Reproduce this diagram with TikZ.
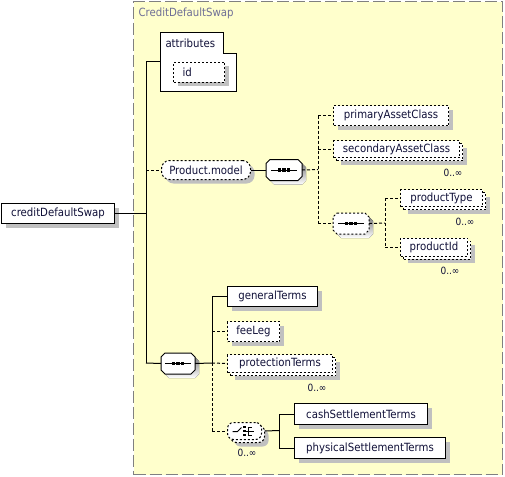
\documentclass[tikz,border=0pt]{standalone}
\usepackage{fontspec}
\setmainfont{DejaVu Sans Condensed}
\usetikzlibrary{shadows,calc}
\definecolor{bgyellow}{RGB}{255,255,204}
\definecolor{framegray}{RGB}{128,128,128}
\definecolor{shade}{RGB}{192,192,192}
\definecolor{txt}{RGB}{16,16,56}
\definecolor{ttl}{RGB}{110,110,150}
\newcommand{\lblfont}{\fontsize{11.3}{13}\selectfont}
\newcommand{\mulfont}{\fontsize{10}{12}\selectfont}
% octagon outline around a node: node, chamfer, x offset, y offset
\newcommand{\octo}[4]{($(#1.north west)+(#2+#3,#4)$) -- ($(#1.north east)+(-#2+#3,#4)$) -- ($(#1.north east)+(#3,#2+#4)$) -- ($(#1.south east)+(#3,-#2+#4)$) -- ($(#1.south east)+(-#2+#3,#4)$) -- ($(#1.south west)+(#2+#3,#4)$) -- ($(#1.south west)+(#3,-#2+#4)$) -- ($(#1.north west)+(#3,#2+#4)$) -- cycle}
\begin{document}
\begin{tikzpicture}[x=1pt,y=-1pt, line width=1pt,
 base/.style={draw=black, fill=white, rectangle, inner sep=0pt, anchor=north west, font=\lblfont, text=txt},
 opt/.style={dash pattern=on 2pt off 2pt},
 shad/.style={general shadow={fill=shade, draw=none, shadow xshift=4pt, shadow yshift=-4pt}},
 multi/.style={general shadow={fill=shade, draw=none, shadow xshift=7pt, shadow yshift=-7pt},
               general shadow={fill=white, draw=black, shadow xshift=3pt, shadow yshift=-3pt}},
 sz/.style 2 args={minimum width=#1pt, minimum height=#2pt},
 seqbox/.style={draw=none, fill=none, rectangle, inner sep=0pt, anchor=north west},
 dconn/.style={dash pattern=on 3pt off 2pt},
 mult/.style={font=\mulfont, text=txt, inner sep=0pt}
]
\useasboundingbox (0,0) rectangle (505,476);

% container
\node[draw=framegray, fill=bgyellow, line width=1.3pt, dash pattern=on 12pt off 4pt,
      rectangle, anchor=north west, minimum width=369pt, minimum height=473pt, inner sep=0pt]
      (grp) at (133,1) {};
\node[font=\lblfont, text=ttl, anchor=west, inner sep=0pt] (title) at (138,13) {CreditDefaultSwap};

% junction coordinates
\coordinate (v0) at (146,62);
\coordinate (vbot) at (146,363);
\coordinate (attr) at (160,62);
\coordinate (j1) at (318,169.5);
\coordinate (j2) at (385,223);
\coordinate (j3) at (212,363);
\coordinate (j4) at (279,430.5);

% main connectors
\draw (v0) -- (vbot);
\draw (v0) -- (attr);

% attributes
\draw[fill=white] (160,33) -- (223,33) -- (223,54) -- (236,54) -- (236,92) -- (160,92) -- cycle;
\node[font=\lblfont, text=txt, anchor=west, inner sep=0pt] (attrlbl) at (165,43.5) {attributes};
\node[base, opt, shad, minimum height=20pt, text width=33pt, inner xsep=9pt, align=left] (id) at (173,62) {id};

% root
\node[base, shad, sz={113}{20}] (cds) at (1,203) {creditDefaultSwap};
\draw (cds.east) -- (cds.east -| v0);

% sequence compositor placeholders
\node[seqbox, sz={35}{20}] (seq1) at (266,159.5) {};
\node[seqbox, sz={35}{20}] (seq2) at (333,213) {};
\node[seqbox, sz={33}{20}] (seq3) at (161,353) {};
\foreach \s in {seq1,seq2,seq3}{\fill[shade] \octo{\s}{4}{4}{4};}
\filldraw[fill=white] \octo{seq1}{4}{0}{0};
\filldraw[fill=white, opt] \octo{seq2}{4}{0}{0};
\filldraw[fill=white] \octo{seq3}{4}{0}{0};

% Product.model group
\node[base, opt, shad, rounded corners=8pt, sz={89}{19}] (pm) at (161,160) {Product.model};
\draw[dconn] (pm.west -| v0) -- (pm.west);
\draw (pm.east) -- (seq1.west);
\node[base, opt, shad, sz={115}{20}] (pac) at (333,105) {primaryAssetClass};
\node[base, opt, multi, sz={126}{17}] (sac) at (333,140) {secondaryAssetClass};
\node[mult] (sacm) at (453,173) {0..∞};
\draw[dconn] (seq1.east) -- (j1);
\draw[dconn] (j1 |- pac.west) -- (j1 |- seq2.west);
\draw[dconn] (j1 |- pac.west) -- (pac.west);
\draw[dconn] (j1 |- sac.west) -- (sac.west);
\draw[dconn] (j1 |- seq2.west) -- (seq2.west);

\node[base, opt, multi, sz={82}{17}] (pt) at (400,189) {productType};
\node[mult] (ptm) at (465,222) {0..∞};
\node[base, opt, multi, sz={67}{18}] (pid) at (400,237.5) {productId};
\node[mult] (pidm) at (450,271) {0..∞};
\draw[dconn] (seq2.east) -- (j2);
\draw[dconn] (j2 |- pt.west) -- (j2 |- pid.west);
\draw[dconn] (j2 |- pt.west) -- (pt.west);
\draw[dconn] (j2 |- pid.west) -- (pid.west);

% bottom sequence
\draw (vbot) -- (seq3.west);
\node[base, shad, sz={90}{20}] (gt) at (227,286) {generalTerms};
\node[base, opt, shad, sz={52}{20}] (fl) at (227,321) {feeLeg};
\node[base, opt, multi, sz={105}{18}] (prt) at (227,354) {protectionTerms};
\node[mult] (prtm) at (317,388) {0..∞};
\node[base, opt, multi, rounded corners=6pt, sz={34}{17}] (ch) at (227,422) {};
\node[mult] (chm) at (247,453) {0..∞};
\draw (seq3.east) -- (j3);
\draw (j3 |- gt.west) -- (j3);
\draw[dconn] (j3) -- (j3 |- ch.west);
\draw (j3 |- gt.west) -- (gt.west);
\draw[dconn] (j3 |- fl.west) -- (fl.west);
\draw[dconn] (j3) -- (prt.west);
\draw[dconn] (j3 |- ch.west) -- (ch.west);

\node[base, shad, sz={133}{21}] (cst) at (294,403) {cashSettlementTerms};
\node[base, shad, sz={151}{21}] (pst) at (294,437) {physicalSettlementTerms};
\draw ($(ch.east)+(3,0)$) -- (j4);
\draw (j4 |- cst.west) -- (j4 |- pst.west);
\draw (j4 |- cst.west) -- (cst.west);
\draw (j4 |- pst.west) -- (pst.west);

% sequence icons
\foreach \s in {seq1,seq2,seq3}{
  \begin{scope}[shift={(\s.center)}]
    \draw (-13,0) -- (13,0);
    \fill (-6,-1.6) rectangle (-2.8,1.6);
    \fill (-1.6,-1.6) rectangle (1.6,1.6);
    \fill (2.8,-1.6) rectangle (6,1.6);
  \end{scope}
}
% choice icon
\begin{scope}[shift={(ch.center)}]
  \draw (-12,0.5) -- (-7,0.5) -- (-3,-3.5);
  \fill (-1.5,-5.2) rectangle (1,-2.8);
  \fill (-1.5,-1.2) rectangle (1,1.2);
  \fill (-1.5,2.8) rectangle (1,5.2);
  \draw (7,-4) -- (3.5,-4) -- (3.5,4) -- (7,4);
  \draw (1,0) -- (9,0);
\end{scope}
\end{tikzpicture}
\end{document}
